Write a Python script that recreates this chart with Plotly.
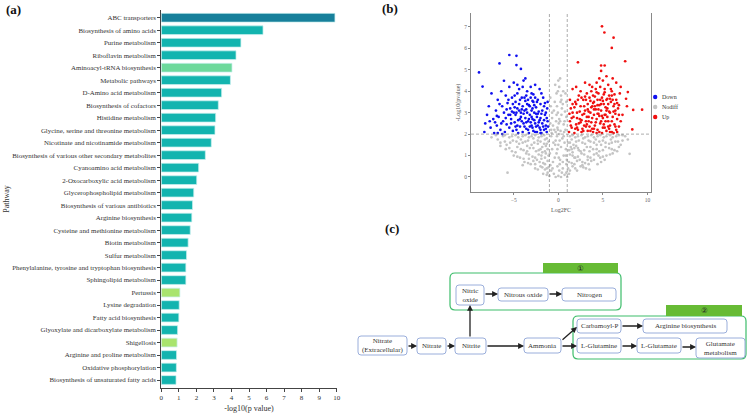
import plotly.graph_objects as go

W, H = 749, 414
FONT = "Liberation Serif"

# ---------------- Panel (a) data ----------------
pathways = [
    "ABC transporters", "Biosynthesis of amino acids", "Purine metabolism",
    "Riboflavin metabolism", "Aminoacyl-tRNA biosynthesis", "Metabolic pathways",
    "D-Amino acid metabolism", "Biosynthesis of cofactors", "Histidine metabolism",
    "Glycine, serine and threonine metabolism", "Nicotinate and nicotinamide metabolism",
    "Biosynthesis of various other secondary metabolites", "Cyanoamino acid metabolism",
    "2-Oxocarboxylic acid metabolism", "Glycerophospholipid metabolism",
    "Biosynthesis of various antibiotics", "Arginine biosynthesis",
    "Cysteine and methionine metabolism", "Biotin metabolism", "Sulfur metabolism",
    "Phenylalanine, tyrosine and tryptophan biosynthesis", "Sphingolipid metabolism",
    "Pertussis", "Lysine degradation", "Fatty acid biosynthesis",
    "Glyoxylate and dicarboxylate metabolism", "Shigellosis",
    "Arginine and proline metabolism", "Oxidative phosphorylation",
    "Biosynthesis of unsaturated fatty acids",
]
neg_log10_p = [9.9, 5.8, 4.54, 4.26, 4.03, 3.94, 3.44, 3.25, 3.1, 3.06, 2.85, 2.51,
               2.13, 2.02, 1.85, 1.78, 1.74, 1.65, 1.53, 1.44, 1.4, 1.4, 1.06, 1.02,
               1.0, 0.93, 0.9, 0.87, 0.86, 0.84]

# ---------------- Panel (b) data ----------------
down_pts = [(-8.9,4.88),(-8.5,4.22),(-6.6,5.3),(-5.5,5.69),(-4.7,5.65),(-4.7,5.22),(-4.2,5.04),(-6.1,4.49),
    (-8.3,2.1),(-8.2,2.5),(-8.0,2.9),(-7.8,3.3),(-7.6,2.3),(-7.5,3.9),(-7.3,2.7),(-7.2,2.05),(-7.0,3.1),
    (-6.9,2.4),(-6.8,3.6),(-6.7,2.8),(-6.5,2.2),(-6.4,4.0),(-6.3,3.3),(-6.2,2.6),(-6.1,3.0),(-6.0,2.1),
    (-5.9,3.8),(-5.8,2.45),(-5.7,3.45),(-5.6,2.9),(-5.5,4.2),(-5.5,2.3),(-5.4,3.2),(-5.3,2.7),(-5.2,3.7),
    (-5.1,2.15),(-5.0,3.0),(-5.0,4.4),(-4.9,2.55),(-4.8,3.5),(-4.8,2.9),(-4.7,2.2),(-4.6,3.9),(-4.6,3.2),
    (-4.5,2.65),(-4.4,4.1),(-4.4,3.4),(-4.3,2.35),(-4.2,3.0),(-4.2,2.8),(-4.1,3.7),(-4.0,2.1),(-4.0,3.3),
    (-3.9,2.5),(-3.9,4.5),(-3.8,3.1),(-3.7,2.75),(-3.7,3.55),(-3.6,2.25),(-3.5,3.0),(-3.5,4.0),(-3.4,2.6),
    (-3.3,3.35),(-3.3,2.05),(-3.2,2.9),(-3.1,3.7),(-3.0,2.4),(-3.0,3.1),(-2.9,2.7),(-2.8,3.5),(-2.8,2.15),
    (-2.7,3.0),(-2.6,2.5),(-2.6,4.3),(-2.5,3.25),(-2.4,2.8),(-2.4,2.1),(-2.3,3.6),(-2.2,2.55),(-2.2,3.05),
    (-2.1,2.3),(-2.0,3.4),(-2.0,2.75),(-1.9,2.05),(-1.8,3.1),(-1.8,2.5),(-1.7,3.7),(-1.6,2.2),(-1.5,2.9),
    (-1.5,3.45),(-1.4,2.4),(-1.3,2.1),(-1.25,3.2),(-1.2,2.6),(-1.15,2.35),(-4.9,3.8),(-4.3,3.6),(-3.6,3.8),
    (-3.2,3.3),(-2.9,3.2),(-3.4,2.2),(-4.5,2.05),(-5.3,2.5),(-5.9,2.75),(-6.6,3.4),(-7.1,2.55),(-6.3,2.0),
    (-2.5,2.35),(-2.0,2.2),(-1.6,2.65),(-3.8,2.35),(-4.7,3.0),(-5.6,3.6),(-4.1,2.6),(-3.1,2.55),(-2.7,2.65),
    (-2.3,2.95),(-1.9,3.9),(-2.1,4.1),(-3.0,3.9),(-4.0,4.2),(-6.8,2.05),(-7.7,2.6),(-3.4,3.6),(-2.6,2.1),
    (-5.2,3.05),(-4.6,2.4),(-4.1,3.15),(-3.6,2.55),(-3.2,2.35),(-2.9,3.55),(-2.5,2.95),(-2.1,2.65),
    (-1.7,2.35),(-1.4,3.0),(-1.3,2.75),(-1.2,3.5),(-3.9,2.95),(-4.3,2.7),(-4.8,2.35),(-5.4,2.9),
    (-5.8,3.15),(-6.4,2.5),(-6.9,2.85),(-3.5,3.4),(-3.0,2.8),(-2.7,3.35),(-2.3,2.4),(-1.9,2.95),
    (-3.8,3.7),(-4.4,3.1),(-5.1,3.4),(-2.4,3.5),(-1.6,3.3),(-3.3,2.7),(-2.0,2.05),(-2.9,2.3),
    (-3.6,3.15),(-4.9,3.25),(-1.4,2.25),(-2.6,3.7),(-3.1,4.2),(-4.6,4.3),(-3.7,4.6),(-2.8,3.85)]
up_pts = [(4.9,7.03),(5.17,6.74),(6.2,6.5),(6.0,6.02),(7.5,5.4),(2.2,5.35),(4.8,5.2),(5.2,5.2),(4.8,4.95),
    (9.4,3.14),(8.4,3.13),(8.3,2.22),(7.8,3.96),(7.6,3.65),(7.7,3.3),(1.2,2.1),(1.3,2.6),(1.4,3.2),(1.5,2.3),
    (1.6,4.1),(1.7,2.8),(1.8,2.05),(1.9,3.5),(2.0,2.45),(2.1,3.0),(2.2,2.2),(2.3,3.8),(2.4,2.7),(2.5,3.3),
    (2.6,2.1),(2.7,2.9),(2.8,3.6),(2.9,2.4),(3.0,3.1),(3.0,4.4),(3.1,2.6),(3.2,3.9),(3.3,2.15),(3.3,3.4),
    (3.4,2.8),(3.5,3.7),(3.5,2.35),(3.6,3.0),(3.7,4.0),(3.7,2.55),(3.8,3.3),(3.9,2.1),(3.9,3.8),(4.0,2.9),
    (4.0,3.5),(4.1,2.4),(4.2,4.1),(4.2,3.15),(4.3,2.7),(4.4,3.6),(4.4,2.2),(4.5,3.9),(4.5,2.95),(4.6,3.35),
    (4.7,2.5),(4.7,4.2),(4.8,3.1),(4.9,2.05),(4.9,3.7),(5.0,2.75),(5.0,4.5),(5.1,3.4),(5.2,2.3),(5.2,3.95),
    (5.3,2.9),(5.4,3.6),(5.4,2.15),(5.5,3.2),(5.6,2.6),(5.6,4.3),(5.7,3.8),(5.8,2.4),(5.8,3.0),(5.9,3.5),
    (6.0,2.1),(6.0,4.0),(6.1,2.8),(6.2,3.3),(6.3,2.45),(6.3,3.85),(6.4,2.95),(6.5,2.2),(6.5,3.6),(6.6,2.7),
    (6.7,3.2),(6.8,2.35),(6.9,3.9),(7.0,2.6),(7.2,2.9),(7.0,4.2),(1.4,2.4),(1.6,3.0),(2.0,3.4),(2.3,2.5),
    (2.6,3.7),(2.9,2.95),(3.2,2.45),(3.6,2.15),(3.8,2.75),(4.1,3.3),(4.3,3.95),(4.6,2.1),(4.8,2.6),(5.1,2.45),
    (5.3,3.25),(5.5,2.8),(5.7,2.25),(5.9,4.1),(6.1,3.6),(6.4,3.1),(6.6,3.45),(6.2,2.05),(4.0,2.25),(3.4,3.05),
    (2.7,2.25),(2.1,2.75),(1.8,3.25),(5.0,3.55),(4.4,2.95),(3.9,3.45),(3.1,3.6),(5.6,3.4),(6.8,2.9),(4.6,4.6),
    (5.4,4.7),(3.5,4.3),(2.5,4.0),(1.3,3.6),(6.1,4.6),(5.8,2.1),
    (2.1,2.3),(2.5,2.55),(2.9,3.3),(3.1,2.35),(3.4,2.6),(3.6,3.55),(3.8,2.25),(4.0,3.15),(4.2,2.55),
    (4.4,3.35),(4.6,2.85),(4.8,3.4),(5.0,2.3),(5.2,2.9),(5.4,3.1),(5.6,2.35),(5.8,3.65),(6.0,2.6),
    (6.2,3.05),(6.4,2.35),(6.6,2.1),(6.8,3.35),(4.3,2.05),(3.7,3.25),(3.2,2.8),(2.8,2.15),(2.4,3.05),
    (1.9,2.25),(1.5,2.75),(1.25,2.95),(1.6,3.4),(2.2,3.6),(3.0,3.75),(4.1,3.75),(4.5,3.15),(5.1,3.85),
    (5.5,3.65),(6.3,3.4),(5.7,3.05),(4.9,2.85),(3.3,3.15),(2.6,2.65),(4.7,3.6),(5.3,2.6),(6.0,3.8),
    (3.8,4.2),(4.3,4.4),(2.0,4.2),(6.5,4.4),(5.2,4.1)]
nodiff_pts = [(0.0,0.05),(0.1,0.3),(-0.1,0.5),(0.2,0.8),(-0.2,1.1),(0.3,1.4),(-0.3,1.7),(0.1,2.0),(-0.1,2.3),
    (0.2,2.6),(-0.2,2.9),(0.4,3.2),(-0.4,3.5),(0.3,3.8),(0.1,4.2),(0.2,4.6),(-0.5,0.15),(0.5,0.4),(-0.6,0.7),
    (0.6,1.0),(-0.7,1.3),(0.7,1.6),(-0.8,1.9),(0.8,2.2),(-0.9,2.5),(0.9,2.8),(-0.5,3.1),(0.5,3.4),(-0.3,2.1),
    (0.6,2.45),(-0.7,2.75),(0.75,3.05),(-0.85,3.3),(0.35,3.6),(-0.2,3.9),(0.0,1.5),(0.05,2.5),(-0.05,3.0),
    (0.4,0.2),(-0.4,0.9),(0.15,0.6),(-0.15,1.9),(0.85,1.3),(-0.95,1.1),(0.95,0.8),(-0.65,0.4),(0.45,1.8),
    (-0.45,2.2),(0.25,2.15),(-0.25,2.6),(0.65,2.1),(-0.75,2.05),(0.9,3.5),(-0.9,3.7),(0.55,4.0),(-0.35,4.3),
    (0.3,0.0),(-0.3,0.0),(0.7,0.1),(-0.8,0.3),
    (-7.0,1.95),(-6.2,1.9),(-5.5,1.85),(-4.8,1.95),(-4.0,1.9),(-3.3,1.85),(-2.6,1.95),(-1.9,1.9),(-1.3,1.8),
    (1.3,1.9),(1.9,1.85),(2.6,1.95),(3.3,1.9),(4.0,1.85),(4.7,1.95),(5.4,1.9),(6.1,1.85),(6.8,1.95),(7.5,1.9),
    (-6.5,1.6),(-5.8,1.5),(-5.1,1.7),(-4.4,1.55),(-3.7,1.65),(-3.0,1.5),(-2.3,1.7),(-1.6,1.55),(-1.1,1.65),
    (1.1,1.6),(1.7,1.5),(2.3,1.7),(3.0,1.55),(3.6,1.65),(4.3,1.5),(5.0,1.7),(5.7,1.55),(6.4,1.65),(7.0,1.5),
    (-5.9,1.3),(-5.2,1.2),(-4.6,1.4),(-3.9,1.25),(-3.2,1.35),(-2.5,1.2),(-1.8,1.4),(-1.2,1.3),(1.2,1.25),
    (1.8,1.35),(2.5,1.2),(3.2,1.4),(3.9,1.3),(4.6,1.2),(5.3,1.4),(6.0,1.3),(6.6,1.2),(8.0,1.08),
    (-5.0,1.0),(-4.3,0.9),(-3.6,1.1),(-2.9,0.95),(-2.2,1.05),(-1.5,0.9),(-1.1,1.0),(1.3,1.05),(1.9,0.9),
    (2.6,1.1),(3.3,0.95),(4.0,1.05),(4.7,0.9),(5.4,1.0),(6.1,1.1),(-3.8,0.7),(-3.1,0.6),(-2.4,0.8),
    (-1.7,0.65),(-1.2,0.75),(1.2,0.7),(1.8,0.6),(2.4,0.8),(3.0,0.65),(3.7,0.75),(4.4,0.6),(5.2,0.8),
    (-2.6,0.4),(-2.0,0.5),(-1.5,0.35),(-1.1,0.45),(1.1,0.4),(1.6,0.5),(2.1,0.3),(2.8,0.45),(3.5,0.35),
    (-5.7,0.2),(-1.3,0.1),(1.2,0.15),(-1.0,0.05),(1.0,0.0),(-6.8,1.75),(-4.2,1.75),(-2.8,1.8),(-1.5,1.75),
    (1.5,1.75),(2.8,1.8),(4.2,1.75),(5.9,1.75),(7.2,1.7),(-3.5,1.45),(-2.0,1.3),(2.0,1.45),(3.5,1.2),
    (4.8,1.5),(-4.8,1.15),(-2.6,0.6),(2.7,0.55),(-3.3,0.85),(3.3,0.8),(4.5,1.0),(-4.0,0.55),(-6.5,1.45),
    (6.8,1.4),(7.8,1.75),(-7.5,1.85),(-1.8,1.15),(1.6,1.15),(-1.4,1.45),(1.4,1.4),(-2.3,1.55),(2.3,1.25),
    (-1.9,0.85),(1.8,0.9),(-1.2,0.2),(-1.7,0.15),(0.9,0.2),(-0.9,0.55),(0.9,0.6),
    (-6.0,1.95),(-5.2,1.9),(-4.5,1.85),(-3.7,1.95),(-3.0,1.9),(-2.2,1.85),(-1.6,1.95),(1.6,1.95),(2.2,1.9),
    (3.0,1.85),(3.7,1.95),(4.4,1.9),(5.1,1.85),(5.8,1.95),(6.5,1.9),(7.2,1.95),(-6.0,1.65),(-5.4,1.6),
    (-4.7,1.65),(-4.0,1.6),(-3.4,1.7),(-2.7,1.6),(-2.0,1.65),(-1.3,1.55),(1.3,1.6),(2.0,1.65),(2.7,1.6),
    (3.4,1.7),(4.0,1.6),(4.6,1.65),(5.3,1.6),(6.0,1.6),(6.7,1.65),(-5.5,1.35),(-4.2,1.3),(-3.5,1.2),
    (-2.8,1.35),(-2.2,1.25),(-1.5,1.2),(1.5,1.3),(2.2,1.35),(2.9,1.25),(3.6,1.4),(4.3,1.3),(5.0,1.25),
    (5.7,1.35),(6.3,1.25),(-4.6,0.95),(-3.9,0.85),(-3.3,1.05),(-2.6,0.9),(-1.9,1.0),(-1.4,1.1),(1.6,1.0),
    (2.2,0.95),(2.9,1.05),(3.6,0.9),(4.3,1.1),(5.0,0.95),(5.8,1.05),(-3.4,0.65),(-2.8,0.75),(-2.1,0.7),
    (-1.5,0.6),(1.5,0.65),(2.1,0.75),(2.7,0.7),(3.4,0.6),(4.0,0.8),(4.8,0.7),(-2.3,0.35),(-1.8,0.45),
    (-1.3,0.4),(1.3,0.3),(1.9,0.4),(2.5,0.5),(3.1,0.4),(0.05,0.9),(-0.1,1.3),(0.15,1.7),(-0.05,2.2),
    (0.1,2.7),(-0.15,3.3),(0.25,3.5),(-0.05,4.0),(0.0,4.5),(0.35,2.9),(-0.35,1.5),(0.5,0.7),(-0.55,1.6),
    (0.6,1.9),(-0.6,2.4),(0.7,2.6),(-0.7,3.0),(0.8,3.9),(-0.8,2.2),(0.85,1.0)]
FC_THRESH = 1.0
P_THRESH = 2.0

# ---------------- Panel (c) diagram ----------------
nodes = {
    "ext": ("Nitrate<br>(Extracellular)", 358, 336, 407, 355),
    "nitrate": ("Nitrate", 417, 338, 446, 354),
    "nitrite": ("Nitrite", 455, 338, 486, 354),
    "ammonia": ("Ammonia", 524, 338, 561, 353),
    "no": ("Nitric<br>oxide", 456, 285, 484, 305),
    "n2o": ("Nitrous oxide", 498, 288, 548, 301),
    "n2": ("Nitrogen", 562, 288, 616, 301),
    "carb": ("Carbamoyl-P", 577, 319, 621, 333),
    "arg": ("Arginine biosynthesis", 643, 319, 727, 333),
    "gln": ("L-Glutamine", 577, 338, 621, 353),
    "glu": ("L-Glutamate", 637, 338, 681, 353),
    "glum": ("Glutamate<br>metabolism", 696, 338, 745, 358),
}
groups = [("①", (450, 273, 621, 310), (543, 263, 618, 273)),
          ("②", (573, 316, 746, 359), (666, 305, 742, 316))]
arrows = [((407, 346), (417, 346)), ((446, 346), (455, 346)), ((486, 346), (524, 346)),
          ((470, 338), (470, 305)), ((484, 294), (498, 294)), ((548, 294), (562, 294)),
          ((561, 341), (577, 327)), ((561, 346), (577, 346)), ((621, 326), (643, 326)),
          ((621, 346), (637, 346)), ((681, 347), (696, 347))]


def X(px):
    return px / W


def Y(py):
    return 1 - py / H


def rrect(x0, y0, x1, y1, r):
    return (f"M {X(x0+r)},{Y(y0)} L {X(x1-r)},{Y(y0)} Q {X(x1)},{Y(y0)} {X(x1)},{Y(y0+r)} "
            f"L {X(x1)},{Y(y1-r)} Q {X(x1)},{Y(y1)} {X(x1-r)},{Y(y1)} "
            f"L {X(x0+r)},{Y(y1)} Q {X(x0)},{Y(y1)} {X(x0)},{Y(y1-r)} "
            f"L {X(x0)},{Y(y0+r)} Q {X(x0)},{Y(y0)} {X(x0+r)},{Y(y0)} Z")


special = {"ABC transporters": "#17809b", "Aminoacyl-tRNA biosynthesis": "#6dd99c",
           "Pertussis": "#a9e46e", "Shigellosis": "#a9e46e"}
bar_colors = [special.get(p, "#13b4af") for p in pathways]

fig = go.Figure()
fig.add_trace(go.Bar(x=neg_log10_p, y=pathways, orientation="h", xaxis="x", yaxis="y",
                     marker=dict(color=bar_colors, line=dict(color="rgba(200,240,238,0.9)", width=0.8)),
                     showlegend=False))

for name, pts, col in [("Nodiff", nodiff_pts, "#c4c4c4"), ("Down", down_pts, "#1010f0"),
                       ("Up", up_pts, "#f01010")]:
    fig.add_trace(go.Scatter(x=[p[0] for p in pts], y=[p[1] for p in pts], mode="markers",
                             name=name, xaxis="x2", yaxis="y2", showlegend=False,
                             marker=dict(size=2.7, color=col, line=dict(width=0))))

shapes = []
ann = []
# threshold lines
for xv in (-FC_THRESH, FC_THRESH):
    shapes.append(dict(type="line", xref="x2", yref="y2 domain", x0=xv, x1=xv, y0=0, y1=1,
                       line=dict(color="#888", width=0.7, dash="3px,2px")))
shapes.append(dict(type="line", xref="x2 domain", yref="y2", x0=0, x1=1, y0=P_THRESH, y1=P_THRESH,
                   line=dict(color="#888", width=0.7, dash="3px,2px")))

# manual legend for volcano
for i, (name, col) in enumerate([("Down", "#1010f0"), ("Nodiff", "#c4c4c4"), ("Up", "#f01010")]):
    cy = 97 + 10 * i
    shapes.append(dict(type="circle", xref="paper", yref="paper", x0=X(653), x1=X(657.4),
                       y0=Y(cy + 2.2), y1=Y(cy - 2.2), fillcolor=col, line=dict(width=0)))
    ann.append(dict(text=name, x=X(660), y=Y(cy), xref="paper", yref="paper", showarrow=False,
                    xanchor="left", yanchor="middle", font=dict(family=FONT, size=6, color="#333")))

# diagram
for label, g, hd in groups:
    shapes.append(dict(type="path", xref="paper", yref="paper", path=rrect(*g, 5),
                       line=dict(color="#3dbd6a", width=1.2), fillcolor="rgba(0,0,0,0)"))
    shapes.append(dict(type="rect", xref="paper", yref="paper", x0=X(hd[0]), x1=X(hd[2]),
                       y0=Y(hd[3]), y1=Y(hd[1]), fillcolor="#67bb35", line=dict(width=0)))
    ann.append(dict(text=label, x=X((hd[0] + hd[2]) / 2), y=Y((hd[1] + hd[3]) / 2), xref="paper",
                    yref="paper", showarrow=False, xanchor="center", yanchor="middle",
                    font=dict(family="DejaVu Sans", size=7.5, color="#222")))
for key, (txt, x0, y0, x1, y1) in nodes.items():
    shapes.append(dict(type="path", xref="paper", yref="paper", path=rrect(x0, y0, x1, y1, 3),
                       line=dict(color="#9aaedb", width=1), fillcolor="white"))
    ann.append(dict(text=txt, x=X((x0 + x1) / 2), y=Y((y0 + y1) / 2), xref="paper", yref="paper",
                    showarrow=False, xanchor="center", yanchor="middle",
                    font=dict(family=FONT, size=7, color="#333")))
for (tx, ty), (hx, hy) in arrows:
    ann.append(dict(text="", x=X(hx), y=Y(hy), xref="paper", yref="paper", showarrow=True,
                    ax=tx - hx, ay=ty - hy, axref="pixel", ayref="pixel", arrowhead=2,
                    xanchor="center", yanchor="middle",
                    arrowsize=0.9, arrowwidth=1.3, arrowcolor="#222", standoff=0))

for lab, px, py in [("(a)", 4, 10), ("(b)", 380, 9), ("(c)", 383, 228)]:
    ann.append(dict(text=f"<b>{lab}</b>", x=X(px), y=Y(py), xref="paper", yref="paper",
                    showarrow=False, xanchor="left", yanchor="middle",
                    font=dict(family=FONT, size=13, color="#111")))

n = len(pathways)
fig.update_layout(
    width=W, height=H, margin=dict(l=0, r=0, t=0, b=0), paper_bgcolor="white",
    plot_bgcolor="white", font=dict(family=FONT, color="#333"), bargap=0.3,
    xaxis=dict(domain=[161.3 / W, 336.7 / W], range=[0, 10], dtick=1, tick0=0, anchor="y",
               showline=True, linecolor="#444", linewidth=1, ticks="outside", ticklen=3,
               tickcolor="#444", tickfont=dict(size=7, color="#333"), showgrid=False,
               zeroline=False, automargin=False,
               title=dict(text="-log10(p value)", font=dict(size=8, color="#333"), standoff=3)),
    yaxis=dict(domain=[1 - 388 / H, 1 - 10 / H], type="category", categoryorder="array",
               categoryarray=pathways, range=[n - 1 + 0.64, -0.62], anchor="x",
               showline=True, linecolor="#444", linewidth=1, ticks="outside", ticklen=3,
               tickcolor="#444", tickfont=dict(size=6.9, color="#333"), showgrid=False,
               automargin=False,
               title=dict(text="Pathway", font=dict(size=8, color="#333"), standoff=1)),
    xaxis2=dict(domain=[471 / W, 651 / W], range=[-9.8, 10.4], tickvals=[-5, 0, 5, 10],
                anchor="y2", showline=True, linecolor="#888", linewidth=1, ticks="outside",
                ticklen=2, tickcolor="#888", tickfont=dict(size=5.5, color="#666"),
                showgrid=False, zeroline=False, automargin=False,
                title=dict(text="Log2FC", font=dict(size=6, color="#555"), standoff=6)),
    yaxis2=dict(domain=[1 - 192 / H, 1 - 13 / H], range=[-0.7, 7.65], dtick=1, tick0=0,
                anchor="x2", showline=True, mirror=True, linecolor="#888", linewidth=1,
                ticks="outside", ticklen=2, tickcolor="#888",
                tickfont=dict(size=5.5, color="#666"), showgrid=False, zeroline=False,
                automargin=False,
                title=dict(text="-Log10(pvalue)", font=dict(size=6, color="#555"), standoff=3)),
    shapes=shapes, annotations=ann, showlegend=False,
)

fig.write_html("out.html")
